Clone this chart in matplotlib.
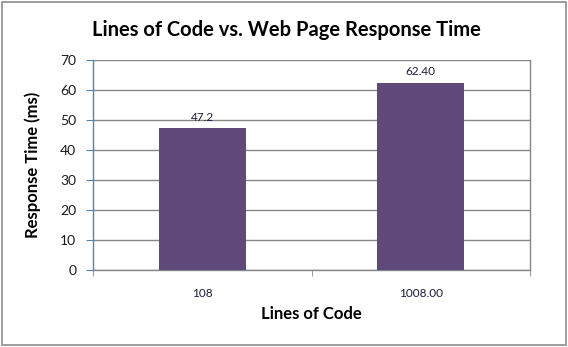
import matplotlib
matplotlib.use("Agg")
import matplotlib.pyplot as plt
from matplotlib.patches import Rectangle

categories = ["108", "1008.00"]
response_ms = [47.2, 62.4]
value_labels = ["47.2", "62.40"]
y_ticks = [0, 10, 20, 30, 40, 50, 60, 70]

plt.rcParams["font.family"] = ["Lato", "DejaVu Sans"]

fig = plt.figure(figsize=(5.68, 3.47), dpi=100)
fig.patches.append(Rectangle((0.004, 0.006), 0.992, 0.988, transform=fig.transFigure,
                             fill=False, edgecolor="#8c8c8c", linewidth=1.2))

ax = fig.add_axes([93 / 568, 1 - 270 / 347, 437 / 568, 210 / 347])
x = list(range(len(categories)))
bars = ax.bar(x, response_ms, width=0.4, color="#604A7B", zorder=3)

ax.set_xlim(-0.5, len(categories) - 0.5)
ax.set_ylim(0, 70)
ax.set_yticks(y_ticks)
ax.tick_params(axis="y", direction="out", length=5, color="#4F81BD", labelsize=10,
               labelcolor="#1a1a1a", pad=7)
ax.set_xticks(x)
ax.set_xticklabels(categories)
ax.tick_params(axis="x", length=0, labelsize=8.5, labelcolor="#1a1a3a", pad=13)
ax.set_xticks([-0.5, 0.5, 1.5], minor=True)
ax.tick_params(axis="x", which="minor", direction="out", length=4, color="#868686")

ax.grid(axis="y", color="#868686", linewidth=1, zorder=0)
ax.spines["top"].set_visible(False)
ax.spines["left"].set_color("#4F81BD")
ax.spines["bottom"].set_color("#868686")
ax.spines["right"].set_color("#868686")
for s in ax.spines.values():
    s.set_linewidth(1)

for rect, lab in zip(bars, value_labels):
    ax.annotate(lab, (rect.get_x() + rect.get_width() / 2, rect.get_height()),
                xytext=(0, 4), textcoords="offset points", ha="center", va="bottom",
                fontsize=8.5, color="#1a1a3a")

ax.set_xlabel("Lines of Code", fontsize=12, fontweight="bold", labelpad=5)
ax.set_ylabel("Response Time (ms)", fontsize=12, fontweight="bold", labelpad=14)
fig.text(286 / 568, 1 - 30 / 347, "Lines of Code vs. Web Page Response Time",
         ha="center", va="center", fontsize=14.5, fontweight="bold")

fig.savefig("out.png", dpi=100)
